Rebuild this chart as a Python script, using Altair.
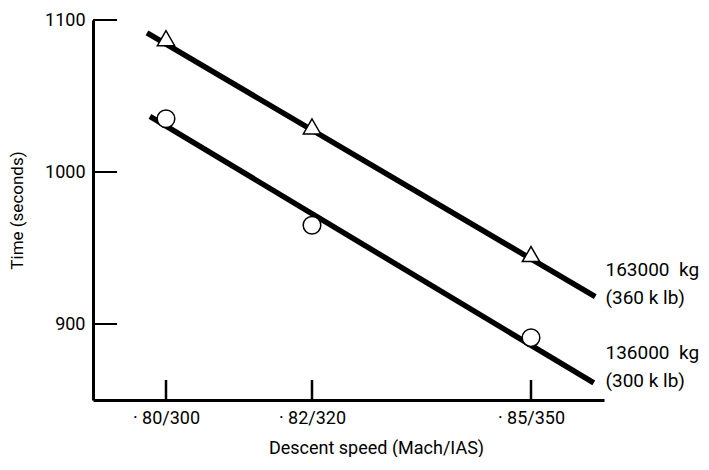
import altair as alt
import pandas as pd

# ---- data ----
mach_ticks = [0.80, 0.82, 0.85]
x_tick_labels = ["· 80/300", "· 82/320", "· 85/350"]
y_ticks = [900, 1000, 1100]

point_mach = [0.80, 0.82, 0.85]
time_163 = [1088, 1030, 946]
time_136 = [1035, 965, 891]

line_163_mach = [0.7974, 0.8588]
line_163_time = [1091.5, 918.0]
line_136_mach = [0.7978, 0.8586]
line_136_time = [1036.6, 861.2]

label_text = ["163000\u00a0\u00a0kg", "(360 k lb)", "136000\u00a0\u00a0kg", "(300 k lb)"]
label_mach = [0.8602, 0.8602, 0.8602, 0.8602]
label_time = [935.7, 917.4, 880.8, 862.4]

FONT = "Roboto"
W, H = 511, 380

xscale = alt.Scale(domain=[0.79, 0.86], nice=False, zero=False)
yscale = alt.Scale(domain=[850, 1100], nice=False, zero=False)

label_expr = " : ".join(
    f"abs(datum.value - {v}) < 0.0001 ? '{t}'" for v, t in zip(mach_ticks, x_tick_labels)
) + " : ''"

pts = pd.DataFrame({
    "mach": point_mach * 2,
    "time": time_163 + time_136,
    "series": ["163000 kg"] * 3 + ["136000 kg"] * 3,
})
lines = pd.DataFrame({
    "mach": line_163_mach + line_136_mach,
    "time": line_163_time + line_136_time,
    "series": ["163000 kg"] * 2 + ["136000 kg"] * 2,
})
labels = pd.DataFrame({"mach": label_mach, "time": label_time, "text": label_text})
yt = pd.DataFrame({"time": y_ticks})
xt = pd.DataFrame({"mach": mach_ticks})

x_axis = alt.Axis(
    values=mach_ticks, labelExpr=label_expr, ticks=False, grid=False,
    domainWidth=3, domainColor="black", labelPadding=9, labelFontSize=18,
    labelColor="black", labelFont=FONT, title="Descent speed (Mach/IAS)",
    titleFont=FONT, titleFontSize=18, titleFontWeight="normal", titleColor="black",
    titlePadding=12, titleX=283,
)
y_axis = alt.Axis(
    values=y_ticks, format="d", ticks=False, grid=False, domainWidth=3, domainColor="black",
    labelPadding=8, labelFontSize=18, labelColor="black", labelFont=FONT,
    title="Time (seconds)", titleFont=FONT, titleFontSize=17,
    titleFontWeight="normal", titleColor="black", titlePadding=18,
)

line_layer = alt.Chart(lines).mark_line(color="black", strokeWidth=5.5, strokeCap="butt").encode(
    x=alt.X("mach:Q", scale=xscale, axis=x_axis),
    y=alt.Y("time:Q", scale=yscale, axis=y_axis),
    detail="series:N",
)

marker_layer = alt.Chart(pts).mark_point(filled=True, fill="white", stroke="black",
                                         strokeWidth=1.5, opacity=1, fillOpacity=1).encode(
    x=alt.X("mach:Q", scale=xscale),
    y=alt.Y("time:Q", scale=yscale),
    shape=alt.Shape("series:N", scale=alt.Scale(domain=["163000 kg", "136000 kg"],
                                                 range=["triangle-up", "circle"]), legend=None),
    size=alt.Size("series:N", scale=alt.Scale(domain=["163000 kg", "136000 kg"],
                                               range=[300, 310]), legend=None),
)

ytick_layer = alt.Chart(yt).mark_rule(color="black", strokeWidth=2).encode(
    y=alt.Y("time:Q", scale=yscale),
    x=alt.value(0), x2=alt.value(24),
)
xtick_layer = alt.Chart(xt).mark_rule(color="black", strokeWidth=2.5).encode(
    x=alt.X("mach:Q", scale=xscale),
    y=alt.value(H), y2=alt.value(H - 20),
)

text_layer = alt.Chart(labels).mark_text(align="left", baseline="middle", font=FONT,
                                         fontSize=19, color="black", clip=False).encode(
    x=alt.X("mach:Q", scale=xscale),
    y=alt.Y("time:Q", scale=yscale),
    text="text:N",
)

chart = alt.layer(line_layer, ytick_layer, xtick_layer, marker_layer, text_layer).properties(
    width=W, height=H,
    padding={"left": 0, "top": 3, "right": 0, "bottom": 0},
).configure(background="white", view={"stroke": "transparent", "strokeWidth": 0})

chart.save("out.html", embed_options={"renderer": "svg", "actions": False})
